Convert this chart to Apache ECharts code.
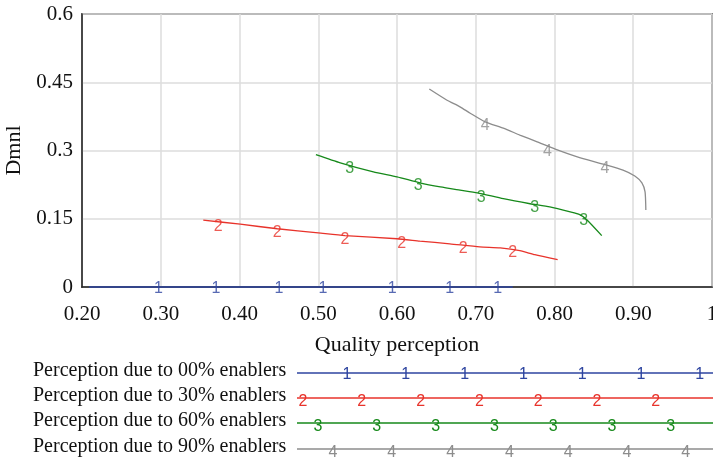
<!DOCTYPE html>
<html>
<head>
<meta charset="utf-8">
<script src="https://cdn.jsdelivr.net/npm/echarts@6/dist/echarts.min.js"></script>
<style>
  html, body { margin: 0; padding: 0; background: #fff; }
  #chart { width: 713px; height: 461px; }
</style>
</head>
<body>
<div id="chart"></div>
<script>
// Quality perception (x) vs Dmnl (y) for four enabler levels
const seriesNames = [
  'Perception due to 00% enablers',
  'Perception due to 30% enablers',
  'Perception due to 60% enablers',
  'Perception due to 90% enablers'
];
const seriesIds = ['1', '2', '3', '4'];
const seriesColors = ['#2e45a0', '#e8332b', '#16891a', '#8c8c8c'];

const line00 = [[0.209, 0], [0.747, 0]];
const line30 = [
  [0.354, 0.147], [0.401, 0.138], [0.448, 0.128], [0.500, 0.119], [0.534, 0.113],
  [0.600, 0.106], [0.629, 0.101], [0.667, 0.095], [0.705, 0.088], [0.731, 0.086],
  [0.756, 0.080], [0.775, 0.071], [0.804, 0.060]
];
const line60 = [
  [0.497, 0.291], [0.528, 0.273], [0.570, 0.253], [0.600, 0.242], [0.629, 0.229],
  [0.655, 0.220], [0.680, 0.213], [0.702, 0.207], [0.735, 0.194], [0.769, 0.183],
  [0.794, 0.176], [0.820, 0.165], [0.832, 0.159], [0.841, 0.148], [0.860, 0.113]
];
const line90 = [
  [0.641, 0.435], [0.663, 0.411], [0.680, 0.396], [0.693, 0.382], [0.712, 0.363],
  [0.735, 0.349], [0.756, 0.334], [0.778, 0.319], [0.801, 0.303], [0.829, 0.286],
  [0.862, 0.270], [0.887, 0.257], [0.902, 0.244], [0.911, 0.229], [0.915, 0.209],
  [0.916, 0.169]
];

// Numbered identifiers placed along each curve
const marks00 = [[0.297, 0], [0.370, 0], [0.450, 0], [0.506, 0], [0.594, 0], [0.667, 0], [0.728, 0]];
const marks30 = [[0.373, 0.141], [0.448, 0.128], [0.534, 0.113], [0.606, 0.105], [0.684, 0.093], [0.747, 0.085]];
const marks60 = [[0.540, 0.268], [0.627, 0.231], [0.707, 0.206], [0.775, 0.183], [0.837, 0.155]];
const marks90 = [[0.712, 0.363], [0.791, 0.307], [0.864, 0.269]];

const xLabelText = ['0.20', '0.30', '0.40', '0.50', '0.60', '0.70', '0.80', '0.90', '1'];

const lines = [line00, line30, line60, line90];
const marks = [marks00, marks30, marks60, marks90];

const serif = '"Liberation Serif", "Times New Roman", serif';
const sans = '"Liberation Sans", Arial, sans-serif';

const series = [];
lines.forEach((d, i) => {
  series.push({
    type: 'line', name: seriesNames[i], data: d, showSymbol: false, clip: false,
    smooth: 0.2, lineStyle: { color: seriesColors[i], width: 1.3 }, z: 3, silent: true
  });
  series.push({
    type: 'scatter', data: marks[i], symbolSize: 0, clip: false, z: 4, silent: true,
    label: {
      show: true, position: 'inside', offset: [0, i === 0 ? 2 : 4],
      formatter: seriesIds[i], color: seriesColors[i],
      fontFamily: sans, fontSize: 16
    }
  });
});

// Legend block below the plot: caption, a line, and repeated identifiers
const legendRows = [373, 398, 423, 449];
const legendStarts = [347, 303, 318, 333];
const graphic = [];
legendRows.forEach((y, i) => {
  graphic.push({
    type: 'text', left: 33, top: y - 12,
    style: { text: seriesNames[i], font: '20px ' + serif, fill: '#111' }
  });
  graphic.push({
    type: 'line', shape: { x1: 297, y1: y, x2: 713, y2: y },
    style: { stroke: seriesColors[i], lineWidth: 1.3 }
  });
  for (let k = 0; k < 7; k++) {
    const x = legendStarts[i] + k * 58.8;
    if (x > 712) break;
    graphic.push({
      type: 'text', x: x, y: y + (i === 0 ? 2 : 4),
      style: {
        text: seriesIds[i], font: '16px ' + sans, fill: seriesColors[i],
        align: 'center', verticalAlign: 'middle'
      }
    });
  }
});

const chart = echarts.init(document.getElementById('chart'));
chart.setOption({
  animation: false,
  backgroundColor: '#fff',
  grid: {
    left: 82, right: 1, top: 14, bottom: 174,
    outerBoundsMode: 'none', containLabel: false,
    show: true, borderColor: '#222', borderWidth: 1.5
  },
  xAxis: {
    type: 'value', min: 0.2, max: 1, interval: 0.1,
    name: 'Quality perception', nameLocation: 'middle', nameGap: 47,
    nameTextStyle: { fontFamily: serif, fontSize: 22, color: '#111' },
    axisLine: { show: true, lineStyle: { color: '#222', width: 1.5 } },
    axisTick: { show: false },
    axisLabel: {
      fontFamily: serif, fontSize: 21, color: '#111', margin: 17,
      formatter: (v) => xLabelText[Math.round((v - 0.2) * 10)]
    },
    splitLine: { show: true, lineStyle: { color: '#dcdcdc', width: 1.5 } }
  },
  yAxis: {
    type: 'value', min: 0, max: 0.6, interval: 0.15,
    name: 'Dmnl', nameLocation: 'middle', nameGap: 53, nameRotate: 90,
    nameTextStyle: { fontFamily: serif, fontSize: 22, color: '#111' },
    axisLine: { show: true, lineStyle: { color: '#222', width: 1.5 } },
    axisTick: { show: false },
    axisLabel: { fontFamily: serif, fontSize: 21, color: '#111', margin: 9 },
    splitLine: { show: true, lineStyle: { color: '#dcdcdc', width: 1.5 } }
  },
  series: series,
  graphic: graphic
});
</script>
</body>
</html>
